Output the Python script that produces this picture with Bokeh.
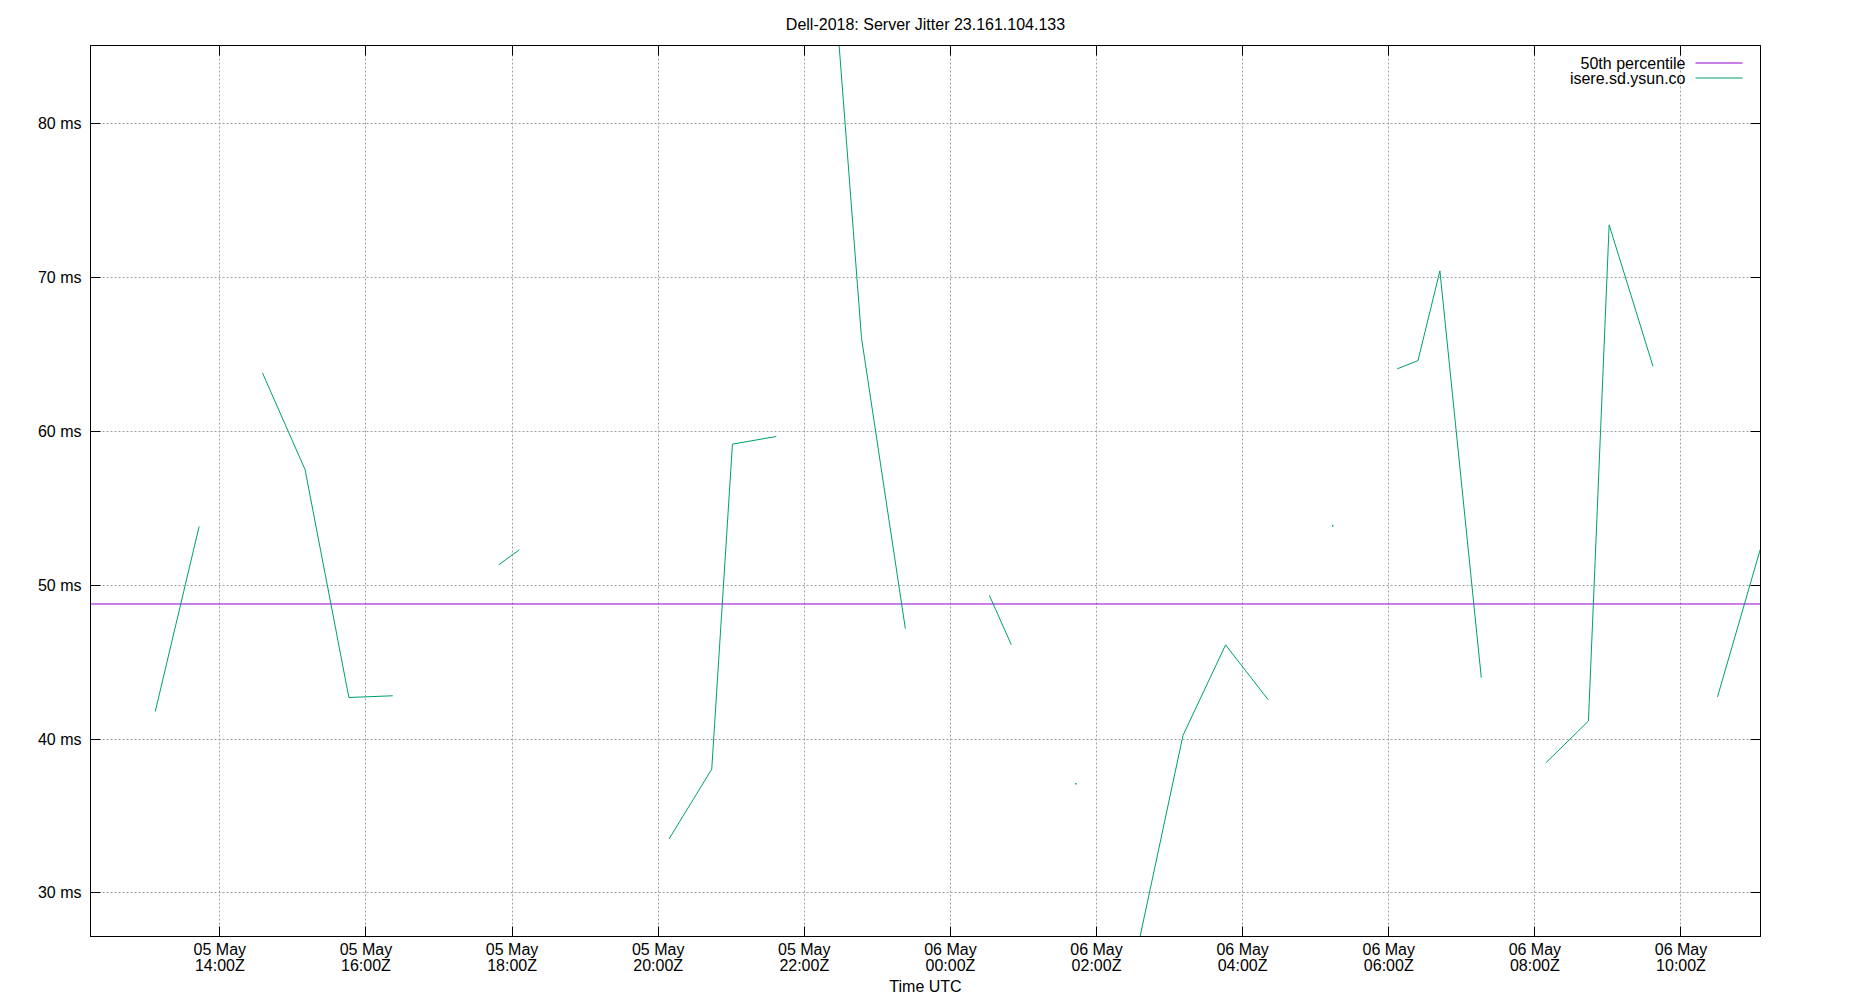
import numpy as np
import pandas as pd
from bokeh.plotting import figure
from bokeh.models import (FixedTicker, Range1d, Label, Arrow, LinearAxis,
                          DatetimeAxis)
from bokeh.embed import file_html
from bokeh.resources import INLINE

# ---------------- data ----------------
title_text = "Dell-2018: Server Jitter 23.161.104.133"
series_name = "isere.sd.ysun.co"
median_name = "50th percentile"
x_label = "Time UTC"

# None marks a gap in the series
jitter_time = [
    "2018-05-05 13:07", "2018-05-05 13:43", None,
    "2018-05-05 14:35", "2018-05-05 15:10", "2018-05-05 15:46", "2018-05-05 16:22", None,
    "2018-05-05 17:49", "2018-05-05 18:06", None,
    "2018-05-05 20:09", "2018-05-05 20:44", "2018-05-05 21:01", "2018-05-05 21:37", None,
    "2018-05-05 22:11", "2018-05-05 22:47", "2018-05-05 23:23", None,
    "2018-05-06 00:32", "2018-05-06 00:50", None,
    "2018-05-06 02:35", "2018-05-06 03:11", "2018-05-06 03:46", "2018-05-06 04:21", None,
    "2018-05-06 06:07", "2018-05-06 06:24", "2018-05-06 06:42", "2018-05-06 07:16", None,
    "2018-05-06 08:09", "2018-05-06 08:44", "2018-05-06 09:01", "2018-05-06 09:37", None,
    "2018-05-06 10:30", "2018-05-06 11:05",
]
jitter_ms = [
    41.79, 53.82, None,
    63.81, 57.52, 42.70, 42.81, None,
    51.33, 52.30, None,
    33.51, 38.04, 59.17, 59.67, None,
    103.3, 66.08, 47.18, None,
    49.34, 46.13, None,
    26.87, 40.23, 46.12, 42.55, None,
    64.07, 64.60, 70.44, 43.99, None,
    38.45, 41.17, 73.43, 64.24, None,
    42.74, 52.30,
]
# isolated single samples
dot_time = ["2018-05-06 01:43", "2018-05-06 05:14"]
dot_ms = [37.09, 53.86]

median_ms = 48.78

x_start = "2018-05-05 12:13:48"
x_end = "2018-05-06 11:05:18"
y_start = 27.16
y_end = 85.09

x_tick_times = ["2018-05-05 14:00", "2018-05-05 16:00", "2018-05-05 18:00",
                "2018-05-05 20:00", "2018-05-05 22:00", "2018-05-06 00:00",
                "2018-05-06 02:00", "2018-05-06 04:00", "2018-05-06 06:00",
                "2018-05-06 08:00", "2018-05-06 10:00"]
x_tick_labels = ["05 May\n14:00Z", "05 May\n16:00Z", "05 May\n18:00Z",
                 "05 May\n20:00Z", "05 May\n22:00Z", "06 May\n00:00Z",
                 "06 May\n02:00Z", "06 May\n04:00Z", "06 May\n06:00Z",
                 "06 May\n08:00Z", "06 May\n10:00Z"]
y_ticks = [30, 40, 50, 60, 70, 80]
y_tick_labels = ["30 ms", "40 ms", "50 ms", "60 ms", "70 ms", "80 ms"]

# ---------------- helpers ----------------
def ms(t):
    return pd.Timestamp(t).value / 1e6 if t else np.nan

xs = [ms(t) for t in jitter_time]
ys = [v if v is not None else np.nan for v in jitter_ms]
dxs = [ms(t) for t in dot_time]
xt = [ms(t) for t in x_tick_times]
x0, x1 = ms(x_start), ms(x_end)

FONT = "Liberation Sans"
GREEN = "#009e73"
PURPLE = "#9400d3"

p = figure(width=1850, height=1000, x_axis_type="datetime",
           x_range=Range1d(x0, x1),
           y_range=Range1d(y_start, y_end),
           output_backend="svg", toolbar_location=None,
           min_border_left=90, min_border_right=90,
           min_border_top=45, min_border_bottom=64)

p.title.text = title_text
p.title.text_font = FONT
p.title.text_font_size = "16px"
p.title.text_font_style = "normal"
p.title.text_color = "black"
p.title.align = "center"
p.title.standoff = 25

p.background_fill_color = "white"
p.border_fill_color = "white"
p.outline_line_color = "black"
p.outline_line_width = 1
p.outline_line_alpha = 1

# grids
for g in (p.xgrid, p.ygrid):
    g.grid_line_color = "#a0a0a0"
    g.grid_line_dash = "2 2"
    g.grid_line_width = 1
p.xgrid.ticker = FixedTicker(ticks=xt)
p.ygrid.ticker = FixedTicker(ticks=y_ticks)

def style_axis(ax):
    ax.axis_line_color = "black"
    ax.major_tick_line_color = "black"
    ax.major_tick_in = 10
    ax.major_tick_out = 0
    ax.minor_tick_line_color = None
    ax.major_label_text_font = FONT
    ax.major_label_text_font_size = "16px"
    ax.major_label_text_color = "black"

xa = p.xaxis[0]
xa.ticker = FixedTicker(ticks=xt)
xa.major_label_overrides = {float(k): v for k, v in zip(xt, x_tick_labels)}
style_axis(xa)
xa.major_label_standoff = 4
xa.major_label_text_line_height = 0.97
xa.axis_label = x_label
xa.axis_label_text_font = FONT
xa.axis_label_text_font_size = "16px"
xa.axis_label_text_font_style = "normal"
xa.axis_label_text_color = "black"
xa.axis_label_standoff = 1

ya = p.yaxis[0]
ya.ticker = FixedTicker(ticks=y_ticks)
ya.major_label_overrides = {k: v for k, v in zip(y_ticks, y_tick_labels)}
style_axis(ya)
ya.major_label_standoff = 9

# mirrored ticks on top and right (no labels drawn)
top = DatetimeAxis(ticker=FixedTicker(ticks=xt))
style_axis(top)
top.major_label_text_color = None
top.major_label_text_font_size = "1px"
top.major_label_standoff = 0
p.add_layout(top, "above")

right = LinearAxis(ticker=FixedTicker(ticks=y_ticks))
style_axis(right)
right.major_label_text_color = None
right.major_label_text_font_size = "1px"
right.major_label_standoff = 0
p.add_layout(right, "right")

# median line across the full time range
p.line([x0, x1], [median_ms, median_ms], line_color=PURPLE, line_width=1)

# jitter series
p.line(xs, ys, line_color=GREEN, line_width=1)
p.scatter(dxs, dot_ms, size=1.5, marker="square", fill_color=GREEN,
          line_color=None)

# legend (label on the left, sample on the right, like the original)
FRAME_H = 1000 - 45 - 64
for i, (name, col) in enumerate([(median_name, PURPLE), (series_name, GREEN)]):
    yy = FRAME_H - 17.5 - 15 * i
    p.add_layout(Label(x=1595, y=yy, x_units="screen", y_units="screen",
                       text=name, text_align="right", text_baseline="middle",
                       text_font=FONT, text_font_size="16px",
                       text_color="black"))
    p.add_layout(Arrow(x_start=1605, y_start=yy, x_end=1652, y_end=yy,
                       start_units="screen", end_units="screen", end=None,
                       line_color=col, line_width=1))

open("out.html", "w").write(file_html(p, INLINE))
